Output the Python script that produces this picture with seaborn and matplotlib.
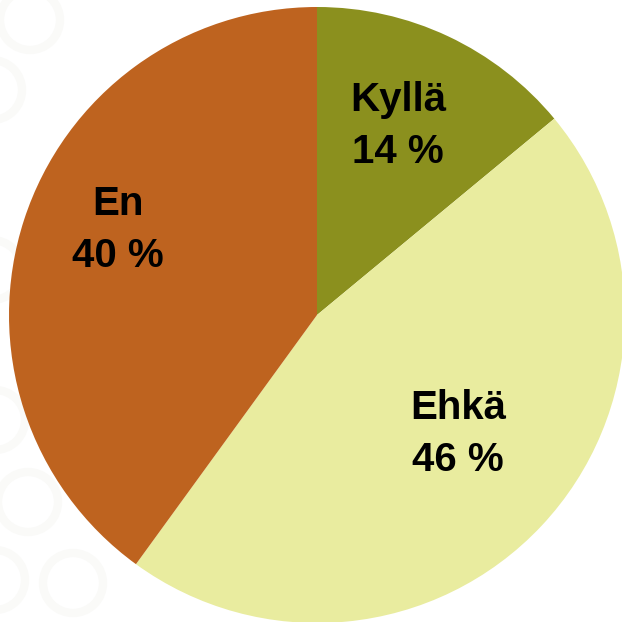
import matplotlib
matplotlib.use("Agg")
import matplotlib.pyplot as plt
import seaborn as sns
from matplotlib.patches import Circle

categories = ["Kyllä", "Ehkä", "En"]
values = [14, 46, 40]
colors = ["#8B901E", "#E9EC9F", "#BE631F"]

sns.set_theme(style="white")
plt.rcParams['font.family'] = ['Liberation Sans', 'DejaVu Sans']

fig = plt.figure(figsize=(6.22, 6.22), dpi=100)
ax = fig.add_axes([0, 0, 1, 1])
ax.set_axis_off()

R = 308.0
def px(x, y):
    return ((x - 317) / R, (315 - y) / R)

# faint decorative rings in background
for (cx, cy) in [(28, 502), (73, 583), (-5, 420), (-5, 580), (-8, 90), (-8, 270), (30, 20)]:
    ax.add_patch(Circle(px(cx, cy), 30 / R, fill=False, lw=6, ec="#fafaf8", zorder=0))

labels_fmt = iter([f"{c}\n{v} %" for c, v in zip(categories, values)])
wedges, texts, autotexts = ax.pie(
    values, colors=colors, startangle=90, counterclock=False,
    radius=1.0, autopct=lambda p: next(labels_fmt), pctdistance=0.63,
    wedgeprops=dict(linewidth=0),
    textprops=dict(fontsize=29, fontweight="bold", color="black", linespacing=1.45),
)
label_px = [(398, 126), (458, 434), (118, 230)]
for t, (x, y) in zip(autotexts, label_px):
    t.set_position(px(x, y))
    t.set_zorder(5)

ax.set_xlim(-317 / R, (622 - 317) / R)
ax.set_ylim(-(622 - 315) / R, 315 / R)
ax.set_aspect("auto")

fig.savefig("out.png", dpi=100)
